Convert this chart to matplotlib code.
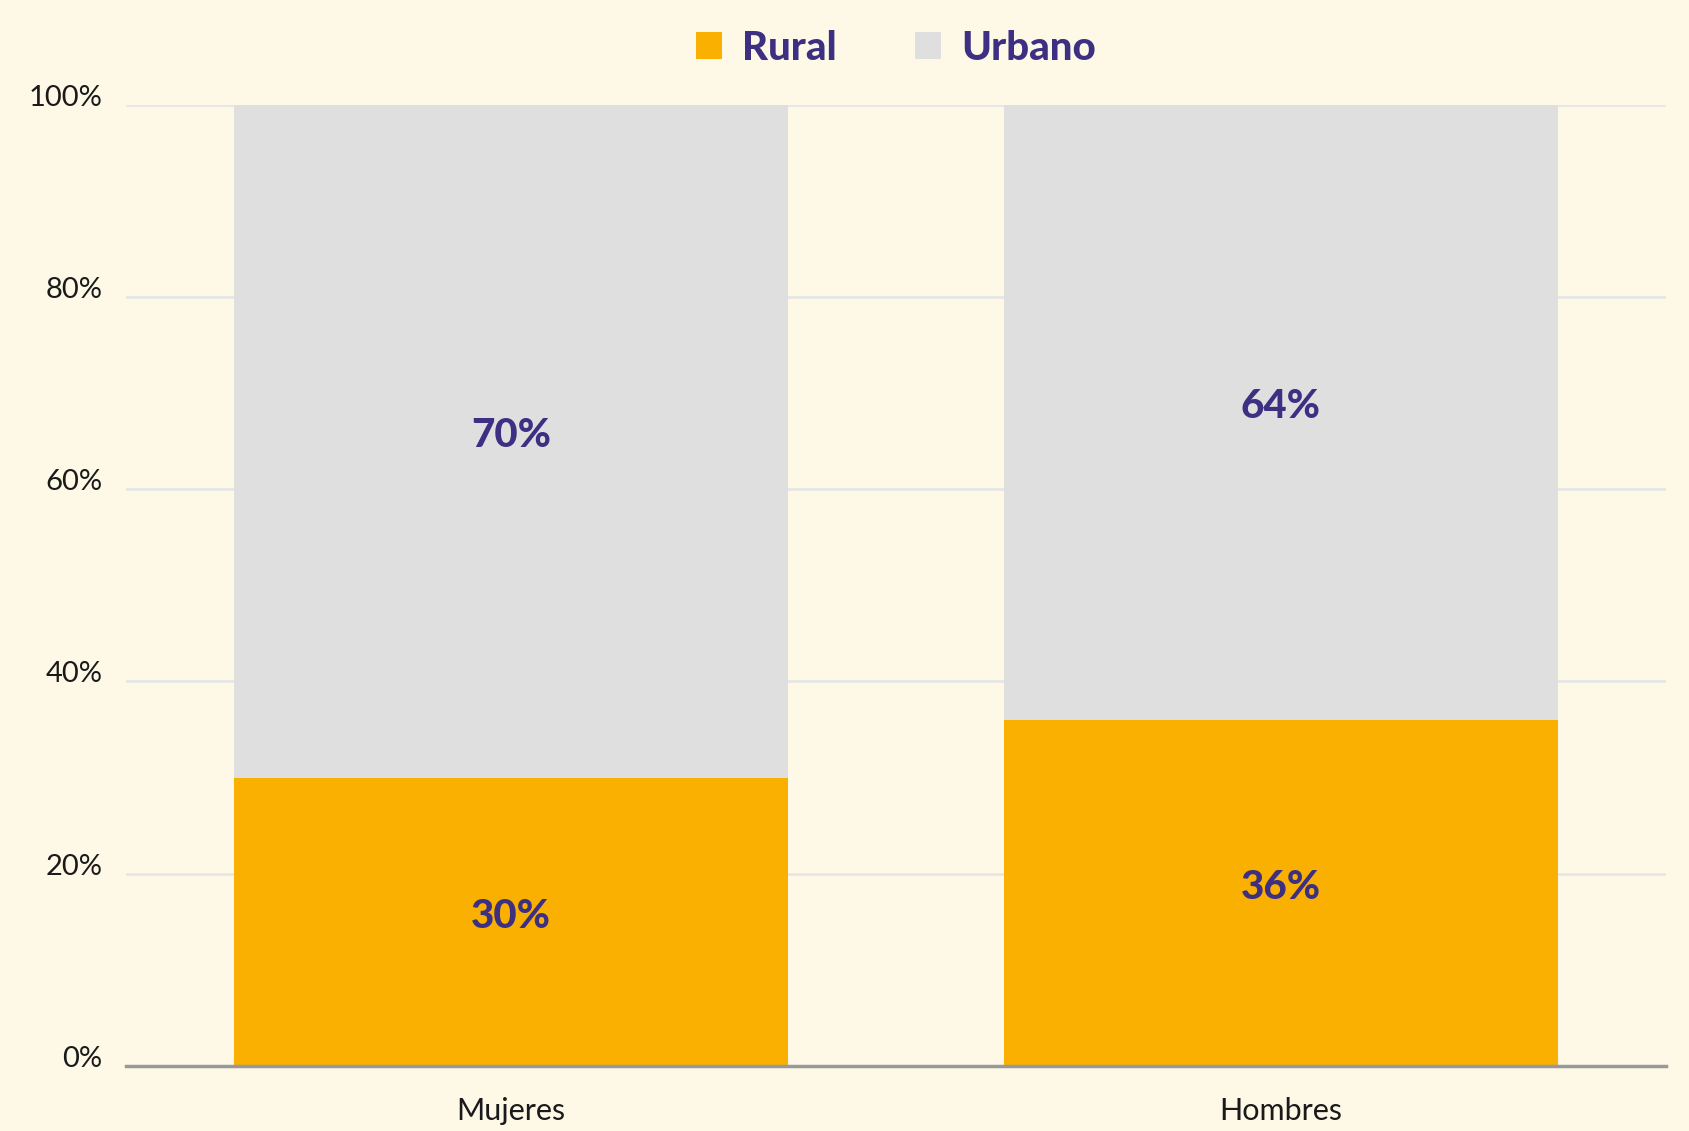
import matplotlib
matplotlib.use("Agg")
import matplotlib.pyplot as plt
from matplotlib.patches import Patch
from matplotlib.transforms import ScaledTranslation

categories = ["Mujeres", "Hombres"]
rural = [30, 36]
urbano = [70, 64]
series_names = ["Rural", "Urbano"]
yticks = [0, 20, 40, 60, 80, 100]
ytick_labels = ["0%", "20%", "40%", "60%", "80%", "100%"]

BG = "#FEF9E7"
ORANGE = "#FAB000"
GRAY = "#DFDFDF"
PURPLE = "#3D2F82"
FONT = "Lato"

W, H = 1690, 1131
fig = plt.figure(figsize=(W / 100, H / 100), dpi=100, facecolor=BG)
ax = fig.add_axes([126 / W, 1 - 1066 / H, 1540 / W, (1066 - 104.5) / H])
ax.set_facecolor(BG)

x = list(range(len(categories)))
bw = 0.72
ax.bar(x, rural, width=bw, color=ORANGE, zorder=2)
ax.bar(x, urbano, width=bw, bottom=rural, color=GRAY, zorder=2)

for i in x:
    ax.text(i, rural[i] / 2 + 0.6, f"{rural[i]}%", ha="center", va="center",
            fontsize=29, fontweight="black", color=PURPLE, family=FONT, zorder=3)
    ax.text(i, rural[i] + urbano[i] / 2 + 0.6, f"{urbano[i]}%", ha="center", va="center",
            fontsize=29, fontweight="black", color=PURPLE, family=FONT, zorder=3)

ax.set_xlim(-0.5, 1.5)
ax.set_ylim(0, 100)
ax.set_yticks(yticks)
ax.set_yticklabels(ytick_labels, family=FONT, fontsize=21, color="#1a1a1a")
ax.set_xticks(x)
ax.set_xticklabels(categories, family=FONT, fontsize=22, color="#1a1a1a")
ax.tick_params(axis="both", length=0)
ax.tick_params(axis="y", pad=17)
ax.tick_params(axis="x", pad=22)
off = ScaledTranslation(0, -0.06, fig.dpi_scale_trans)
for t in ax.get_yticklabels():
    t.set_verticalalignment("bottom")
    t.set_transform(t.get_transform() + off)

ax.yaxis.grid(True, color="#E6E6E6", linewidth=2, zorder=0)
ax.set_axisbelow(True)
for s in ["top", "right", "left"]:
    ax.spines[s].set_visible(False)
ax.spines["bottom"].set_color("#999999")
ax.spines["bottom"].set_linewidth(2.5)
ax.spines["bottom"].set_zorder(4)

handles = [Patch(facecolor=ORANGE, edgecolor="none"), Patch(facecolor=GRAY, edgecolor="none")]
leg = fig.legend(handles, series_names, loc="center", bbox_to_anchor=(896 / W, 1 - 48 / H),
                 ncol=2, frameon=False, handlelength=0.65, handleheight=0.65,
                 handletextpad=0.5, columnspacing=1.95,
                 prop={"family": FONT, "weight": "black", "size": 29})
for t in leg.get_texts():
    t.set_color(PURPLE)

fig.savefig("out.png", dpi=100, facecolor=BG)
